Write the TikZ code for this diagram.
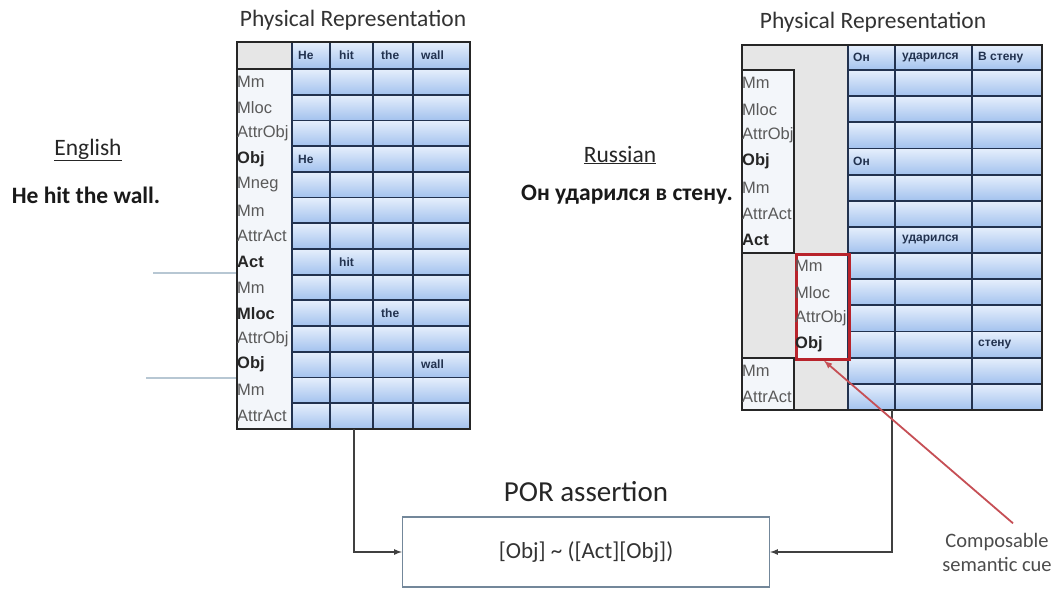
\documentclass[tikz,border=0pt]{standalone}
\usepackage{fontspec}
\setmainfont{Carlito}
\newfontfamily\tabfont{Liberation Sans}
\usetikzlibrary{positioning}
\definecolor{cellnavy}{HTML}{22324F}
\definecolor{celltop}{HTML}{E6EFFC}
\definecolor{cellbot}{HTML}{A3C2EE}
\definecolor{labgray}{HTML}{E6E6E6}
\definecolor{labpale}{HTML}{F3F6FA}
\definecolor{labtext}{HTML}{5A5A5A}
\definecolor{cuered}{HTML}{B8232B}
\definecolor{porline}{HTML}{73879A}
\definecolor{sideline}{HTML}{B7C7D3}
\tikzset{
  cell/.style={top color=celltop, bottom color=cellbot},
  gridline/.style={draw=cellnavy, line width=1.8pt},
  tabborder/.style={draw=black!85, line width=2.8pt},
  lab/.style={font=\tabfont\fontsize{16.5}{16.5}\selectfont, text=labtext, anchor=west, inner sep=1pt},
  boldlab/.style={lab, font=\tabfont\bfseries\fontsize{16.5}{16.5}\selectfont, text=black!85},
  word/.style={font=\tabfont\bfseries\fontsize{12}{12}\selectfont, text=cellnavy, anchor=west, inner sep=0pt},
  conn/.style={draw=black!75, line width=1.6pt, -latex},
}
\begin{document}
\begin{tikzpicture}[x=1pt,y=-1pt]
\fill[white] (0,0) rectangle (1062,589);
\useasboundingbox (0,0) rectangle (1062,589);

% titles and sentences
\node[font=\fontsize{23.5}{23.5}\selectfont, text=black!80] (engtitle) at (353,20) {Physical Representation};
\node[font=\fontsize{23.5}{23.5}\selectfont, text=black!80] (rustitle) at (873,22) {Physical Representation};
\node[font=\fontsize{23.5}{23.5}\selectfont, text=black!85] (englang) at (88,150) {\underline{English}};
\node[font=\bfseries\fontsize{23.5}{23.5}\selectfont, text=black!90] (engsent) at (86,195) {He hit the wall.};
\node[font=\fontsize{23.5}{23.5}\selectfont, text=black!85] (ruslang) at (620,155) {\underline{Russian}};
\node[font=\bfseries\fontsize{23.5}{23.5}\selectfont, text=black!90] (russent) at (627,195) {Он ударился в стену.};

% English table
\fill[labgray] (237,42) rectangle (292,69);
\fill[labpale] (237,69) rectangle (292,429);
\shade[cell] (292,42) rectangle (470,69);
\foreach \r in {0,...,13}
  \shade[cell] (292,{69+\r*25.7}) rectangle (470,{69+(\r+1)*25.7});
\foreach \r in {0,...,13}
  \draw[gridline] (292,{69+\r*25.7}) -- (470,{69+\r*25.7});
\foreach \x in {292,330,373,413}
  \draw[gridline] (\x,42) -- (\x,429);
\draw[tabborder] (237,69) -- (292,69);
\draw[tabborder] (237,42) rectangle (470,429);
\foreach \sty/\lab [count=\i] in {lab/Mm,lab/Mloc,lab/AttrObj,boldlab/Obj,lab/Mneg,lab/Mm,lab/AttrAct,
    boldlab/Act,lab/Mm,boldlab/Mloc,lab/AttrObj,boldlab/Obj,lab/Mm,lab/AttrAct}
  \node[\sty] (el\i) at (236,{69+(\i-0.5)*25.7}) {\lab};
\node[word] (ehHe) at (298,55.5) {He};
\node[word] (ehhit) at (339,55.5) {hit};
\node[word] (ehthe) at (381,55.5) {the};
\node[word] (ehwall) at (421,55.5) {wall};
\node[word] (ecHe) at (298,{69+3.5*25.7}) {He};
\node[word] (echit) at (339,{69+7.5*25.7}) {hit};
\node[word] (ecthe) at (381,{69+9.5*25.7}) {the};
\node[word] (ecwall) at (421,{69+11.5*25.7}) {wall};
\coordinate (engout) at (354,429);

% side marks
\coordinate (markA) at (153,273);
\coordinate (markB) at (146,378);
\draw[sideline, line width=1.2pt] (markA) -- (236,273);
\draw[sideline, line width=1.2pt] (markB) -- (236,378);

% Russian table
\fill[labgray] (742,45) rectangle (848,410);
\fill[labpale] (742,70) rectangle (794,{70+7*26.15});
\fill[labpale] (742,{70+11*26.15}) rectangle (794,410);
\fill[labpale] (795,{70+7*26.15}) rectangle (848,{70+11*26.15});
\shade[cell] (848,45) rectangle (1042,70);
\foreach \r in {0,...,12}
  \shade[cell] (848,{70+\r*26.15}) rectangle (1042,{70+(\r+1)*26.15});
\foreach \r in {0,...,12}
  \draw[gridline] (848,{70+\r*26.15}) -- (1042,{70+\r*26.15});
\foreach \x in {848,895,972}
  \draw[gridline] (\x,45) -- (\x,410);
\draw[tabborder, line width=2pt] (742,70) rectangle (794,{70+7*26.15});
\draw[tabborder, line width=2pt] (742,{70+11*26.15}) rectangle (794,410);
\draw[tabborder] (742,45) rectangle (1042,410);
\node[draw=cuered, line width=3pt, minimum width=53, minimum height=104.6, inner sep=0pt,
  anchor=north west] (cuebox) at (795,{70+7*26.15}) {};
\foreach \sty/\lab [count=\i] in {lab/Mm,lab/Mloc,lab/AttrObj,boldlab/Obj,lab/Mm,lab/AttrAct,boldlab/Act}
  \node[\sty] (rl\i) at (741,{70+(\i-0.5)*26.15}) {\lab};
\foreach \sty/\lab [count=\i] in {lab/Mm,lab/Mloc,lab/AttrObj,boldlab/Obj}
  \node[\sty] (rc\i) at (794,{70+(\i+6.5)*26.15}) {\lab};
\foreach \sty/\lab [count=\i] in {lab/Mm,lab/AttrAct}
  \node[\sty] (rb\i) at (741,{70+(\i+10.5)*26.15}) {\lab};
\node[word] (rhOn) at (853,57.5) {Он};
\node[word] (rhudar) at (902,57.5) {ударился};
\node[word] (rhsten) at (978,57.5) {В стену};
\node[word] (rcOn) at (853,{70+3.5*26.15}) {Он};
\node[word] (rcudar) at (902,{70+6.5*26.15}) {ударился};
\node[word] (rcsten) at (978,{70+10.5*26.15}) {стену};
\coordinate (rusout) at (892,410);

% POR assertion
\node[font=\fontsize{29}{29}\selectfont, text=black!85] (portitle) at (586,492) {POR assertion};
\node[draw=porline, line width=1.4pt, minimum width=367, minimum height=70,
  font=\fontsize{23}{23}\selectfont, text=black!80] (por) at (586,552) {[Obj] \textasciitilde{} ([Act][Obj])};
\draw[conn] (engout) |- (por.west);
\draw[conn] (rusout) |- (por.east);

% cue
\node[font=\fontsize{20.5}{24}\selectfont, text=black!70, align=center] (cuetext) at (997,552) {Composable\\semantic cue};
\draw[cuered!80, line width=1.8pt, -latex] ([xshift=16pt,yshift=6pt]cuetext.north) -- ([xshift=1pt]cuebox.south);
\end{tikzpicture}
\end{document}
